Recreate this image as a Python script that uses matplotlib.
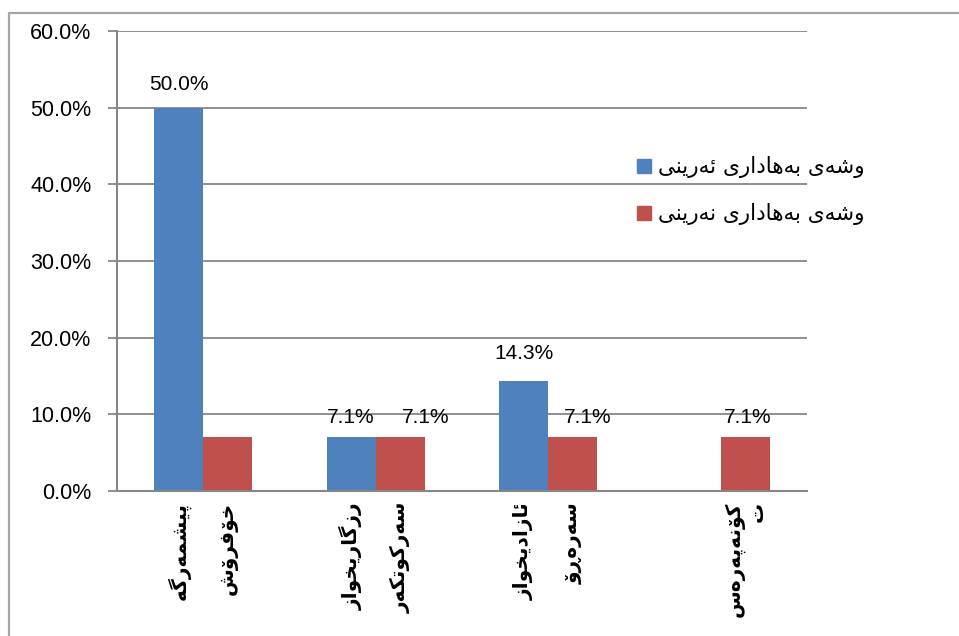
import numpy as np
import matplotlib
matplotlib.use("Agg")
import matplotlib.pyplot as plt
from matplotlib.ticker import PercentFormatter
from matplotlib.lines import Line2D
from matplotlib.patches import Patch

# data
positive_words = ['پێشمەرگە', 'رزگاریخواز', 'ئازادیخواز', '']
negative_words = ['خۆفرۆش', 'سەرکوتکەر', 'سەرەڕۆ', 'کۆنەپەرەس\nت']
positive = [50.0, 7.1, 14.3, 0.0]
negative = [7.1, 7.1, 7.1, 7.1]
positive_shown = [True, True, True, False]
negative_shown = [False, True, True, True]
series_names = ['وشەی بەهاداری ئەرێنی', 'وشەی بەهاداری نەرێنی']
yticks = [0, 10, 20, 30, 40, 50, 60]

# label nudges (points), the excel labels were moved by hand a bit
pos_nudge = [(0, 10), (0, 7), (0, 13), (0, 0)]
neg_nudge = [(0, 0), (18, 7), (11, 7), (2, 7)]

# matplotlib has no arabic shaping, so pick presentation forms by hand
# (type, isolated, final, initial, medial)
FORMS = {
    'ا': ('R', '\uFE8D', '\uFE8E', None, None),
    'ب': ('D', '\uFE8F', '\uFE90', '\uFE91', '\uFE92'),
    'ت': ('D', '\uFE95', '\uFE96', '\uFE97', '\uFE98'),
    'خ': ('D', '\uFEA5', '\uFEA6', '\uFEA7', '\uFEA8'),
    'د': ('R', '\uFEA9', '\uFEAA', None, None),
    'ر': ('R', '\uFEAD', '\uFEAE', None, None),
    'ڕ': ('R', '\u0695', '\u0695', None, None),
    'ز': ('R', '\uFEAF', '\uFEB0', None, None),
    'س': ('D', '\uFEB1', '\uFEB2', '\uFEB3', '\uFEB4'),
    'ش': ('D', '\uFEB5', '\uFEB6', '\uFEB7', '\uFEB8'),
    'ف': ('D', '\uFED1', '\uFED2', '\uFED3', '\uFED4'),
    'م': ('D', '\uFEE1', '\uFEE2', '\uFEE3', '\uFEE4'),
    'ن': ('D', '\uFEE5', '\uFEE6', '\uFEE7', '\uFEE8'),
    'ه': ('D', '\uFEE9', '\uFEEA', '\uFEEB', '\uFEEC'),
    'و': ('R', '\uFEED', '\uFEEE', None, None),
    'ئ': ('D', '\uFE89', '\uFE8A', '\uFE8B', '\uFE8C'),
    'ی': ('D', '\uFBFC', '\uFBFD', '\uFBFE', '\uFBFF'),
    'ێ': ('D', '\u06CE', '\uFBFD', '\uFBFE', '\uFBFF'),
    'پ': ('D', '\uFB56', '\uFB57', '\uFB58', '\uFB59'),
    'گ': ('D', '\uFB92', '\uFB93', '\uFB94', '\uFB95'),
    'ک': ('D', '\uFB8E', '\uFB8F', '\uFB90', '\uFB91'),
    'ۆ': ('R', '\uFBD9', '\uFBDA', None, None),
    'ە': ('R', '\u06D5', '\uFEEA', None, None),
}


def shape_line(s):
    out = []
    for i, ch in enumerate(s):
        if ch not in FORMS:
            out.append(ch)
            continue
        t, iso, fin, ini, med = FORMS[ch]
        prev = s[i - 1] if i > 0 else None
        nxt = s[i + 1] if i < len(s) - 1 else None
        jp = prev in FORMS and FORMS[prev][0] == 'D'
        jn = t == 'D' and nxt in FORMS
        if jp and jn:
            out.append(med)
        elif jp:
            out.append(fin)
        elif jn:
            out.append(ini)
        else:
            out.append(iso)
    return ''.join(reversed(out))


def shape(s):
    return '\n'.join(shape_line(l) for l in s.split('\n'))


blue = '#4F81BD'
red = '#C0504D'
grid_c = '#868686'
latin = ['Liberation Sans', 'DejaVu Sans']

fig = plt.figure(figsize=(9.59, 6.36), dpi=100)
ax = fig.add_axes([117 / 959, 1 - 491 / 636, (807 - 117) / 959, (491 - 31) / 636])

x = np.arange(len(positive))
w = 0.285
b1 = ax.bar(x - w / 2, positive, w, color=blue, zorder=2)
b2 = ax.bar(x + w / 2, negative, w, color=red, zorder=2)

ax.set_xlim(-0.5, len(x) - 0.5)
ax.set_ylim(0, 60)
ax.set_yticks(yticks)
ax.yaxis.set_major_formatter(PercentFormatter(decimals=1))
ax.set_xticks([])
ax.yaxis.grid(True, color=grid_c, lw=1.3)
ax.set_axisbelow(True)
for s in ['top', 'right']:
    ax.spines[s].set_visible(False)
for s in ['left', 'bottom']:
    ax.spines[s].set_color(grid_c)
    ax.spines[s].set_linewidth(1.5)
ax.tick_params(axis='y', length=6.5, width=1.3, color=grid_c, pad=12, labelsize=15.5)
for lab in ax.get_yticklabels():
    lab.set_family(latin)

# value labels
for bars, vals, shown, nudge in [(b1, positive, positive_shown, pos_nudge),
                                 (b2, negative, negative_shown, neg_nudge)]:
    for bar, v, sh, nd in zip(bars, vals, shown, nudge):
        if sh:
            ax.annotate(f'{v:.1f}%', (bar.get_x() + bar.get_width() / 2, v),
                        xytext=nd, textcoords='offset points', ha='center', va='bottom',
                        fontsize=15, family=latin)

# category labels under each bar
for words, offs in [(positive_words, -w / 2), (negative_words, w / 2)]:
    for xi, word in zip(x, words):
        if word:
            ax.annotate(shape(word), (xi + offs, 0), xycoords=('data', 'axes fraction'),
                        xytext=(0, -8), textcoords='offset points', rotation=90,
                        ha='center', va='top', multialignment='right',
                        fontsize=14.5, fontweight='bold', family='DejaVu Sans')

handles = [Patch(color=blue), Patch(color=red)]
ax.legend(handles, [shape(n) for n in series_names], loc='upper left',
          bbox_to_anchor=(618 / 959, 1 - 137 / 636), bbox_transform=fig.transFigure,
          frameon=False, prop={'family': 'DejaVu Sans', 'size': 15.5},
          handlelength=0.62, handleheight=0.62, handletextpad=0.35, labelspacing=1.15)

# outer frame (top and left only)
fig.add_artist(Line2D([9 / 959, 9 / 959, 1], [0, 1 - 13 / 636, 1 - 13 / 636],
                      transform=fig.transFigure, color='#a6a6a6', lw=1.6))

fig.savefig('out.png', dpi=100)
